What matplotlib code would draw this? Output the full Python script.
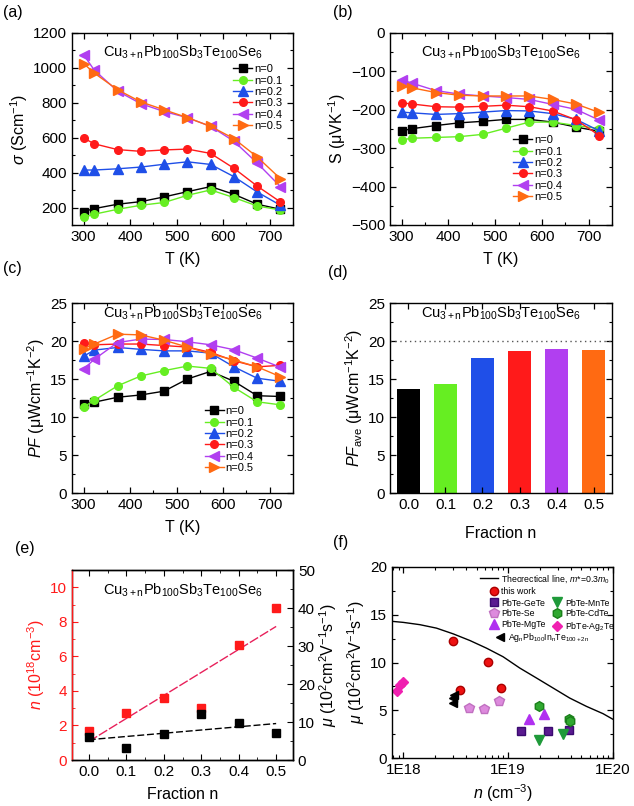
import numpy as np
import matplotlib
matplotlib.use("Agg")
import matplotlib.pyplot as plt
from matplotlib.legend import Legend
from matplotlib.ticker import MultipleLocator, FixedLocator, NullFormatter, LogLocator

plt.rcParams['font.family'] = ['Liberation Sans', 'DejaVu Sans']
plt.rcParams['mathtext.fontset'] = 'custom'
plt.rcParams['mathtext.rm'] = 'Liberation Sans'
plt.rcParams['mathtext.it'] = 'Liberation Sans:italic'
plt.rcParams['mathtext.default'] = 'regular'
plt.rcParams['xtick.direction'] = 'in'
plt.rcParams['ytick.direction'] = 'in'
plt.rcParams['axes.linewidth'] = 1.0

# ------------------------------------------------------------
# data
# ------------------------------------------------------------
T = [300, 323, 373, 423, 473, 523, 573, 623, 673, 723]
series_labels = ['n=0', 'n=0.1', 'n=0.2', 'n=0.3', 'n=0.4', 'n=0.5']
colors = ['#000000', '#66ee22', '#1f4fe8', '#ff1a1a', '#b13ff0', '#ff6a12']
markers = ['s', 'o', '^', 'o', '<', '>']

sigma_n0 = [177, 194, 219, 234, 261, 291, 320, 276, 219, 190]
sigma_n01 = [146, 162, 190, 213, 229, 270, 301, 257, 209, 186]
sigma_n02 = [415, 415, 422, 432, 448, 462, 447, 377, 289, 213]
sigma_n03 = [598, 565, 532, 522, 530, 535, 510, 425, 323, 232]
sigma_n04 = [1075, 987, 867, 795, 750, 715, 665, 580, 455, 320]
sigma_n05 = [1025, 970, 875, 805, 760, 715, 665, 595, 490, 365]

seebeck_n0 = [-255, -249, -241, -234, -230, -225, -225, -232, -245, -256]
seebeck_n01 = [-278, -274, -272, -270, -264, -248, -232, -232, -241, -249]
seebeck_n02 = [-206, -208, -212, -210, -206, -202, -203, -210, -225, -255]
seebeck_n03 = [-182, -185, -192, -193, -191, -188, -192, -203, -226, -267]
seebeck_n04 = [-122, -131, -150, -159, -164, -168, -173, -186, -199, -227]
seebeck_n05 = [-137, -143, -155, -162, -164, -164, -164, -173, -185, -207]

pf_n0 = [11.7, 11.95, 12.6, 12.9, 13.4, 15.0, 16.0, 14.7, 12.8, 12.7]
pf_n01 = [11.3, 12.2, 14.1, 15.4, 16.1, 16.7, 16.4, 13.9, 12.0, 11.6]
pf_n02 = [18.0, 18.8, 19.15, 18.9, 18.7, 18.7, 18.4, 16.6, 15.1, 14.7]
pf_n03 = [19.8, 19.5, 19.6, 19.6, 19.4, 19.2, 18.5, 17.4, 16.6, 16.8]
pf_n04 = [16.3, 17.6, 19.8, 20.25, 20.2, 19.9, 19.5, 18.85, 17.75, 16.55]
pf_n05 = [19.0, 19.6, 20.9, 20.8, 20.1, 19.2, 18.3, 17.5, 16.6, 15.3]

fraction = [0.0, 0.1, 0.2, 0.3, 0.4, 0.5]
pf_ave = [13.65, 14.4, 17.7, 18.65, 19.0, 18.85]
carrier_n = [1.69, 2.72, 3.59, 3.0, 6.64, 8.78]      # 10^18 cm^-3
mobility = [6.1, 3.1, 6.8, 12.0, 9.8, 7.0]           # 10^2 cm^2/Vs

theory_n = [7.8e17, 1.0e18, 1.44e18, 2.07e18, 2.99e18, 4.32e18, 6.22e18, 8.95e18,
            1.29e19, 1.86e19, 2.68e19, 3.86e19, 5.57e19, 8.04e19, 1.0e20]
theory_mu = [14.31, 14.2, 13.96, 13.6, 13.0, 12.3, 11.5, 10.6, 9.42, 8.38, 7.33,
             6.28, 5.41, 4.64, 4.05]

thiswork_n = [2.95e18, 3.5e18, 6.45e18, 8.5e18]
thiswork_mu = [12.2, 7.16, 10.09, 7.33]
gete_n = [1.34e19, 2.4e19, 3.8e19]
gete_mu = [2.86, 2.86, 2.97]
se_n = [4.26e18, 5.9e18, 8.1e18]
se_mu = [5.24, 5.17, 5.93]
mgte_n = [1.58e19, 2.2e19]
mgte_mu = [4.12, 4.64]
mnte_n = [1.95e19, 3.3e19]
mnte_mu = [1.92, 2.51]
cdte_n = [1.95e19, 3.8e19, 3.9e19]
cdte_mu = [5.48, 4.08, 3.84]
ag2te_n = [8.8e17, 9.3e17, 9.85e17]
ag2te_mu = [6.98, 7.68, 7.92]
last_n = [2.95e18, 3.0e18, 3.02e18]
last_mu = [5.76, 6.28, 6.56]

title = r'Cu$_{3+n}$Pb$_{100}$Sb$_3$Te$_{100}$Se$_6$'

# ------------------------------------------------------------
# layout helpers
# ------------------------------------------------------------
W, H = 634, 806
fig = plt.figure(figsize=(W / 100, H / 100), dpi=100)


def make_axes(left, right, top, bottom):
    return fig.add_axes([left / W, 1 - bottom / H, (right - left) / W, (bottom - top) / H])


def style(ax, right=True, top=True):
    ax.tick_params(which='both', top=top, right=right, labelsize=11)
    ax.tick_params(which='major', length=4, width=0.9)
    ax.tick_params(which='minor', length=2, width=0.8)


def temp_panel(ax, series, ylim, major, minor, ylabel, leg_anchor, title_y):
    for vals, lab, c, m in zip(series, series_labels, colors, markers):
        ms = 6.5 if m in ('^', '<', '>') else 5.5
        ax.plot(T, vals, color=c, marker=m, ms=ms, mec=c, lw=1.0, label=lab)
    ax.set_xlim(275, 750)
    ax.set_ylim(*ylim)
    ax.xaxis.set_major_locator(MultipleLocator(100))
    ax.xaxis.set_minor_locator(MultipleLocator(50))
    ax.yaxis.set_major_locator(MultipleLocator(major))
    ax.yaxis.set_minor_locator(MultipleLocator(minor))
    style(ax)
    ax.set_xlabel('T (K)', fontsize=11.5, labelpad=6)
    ax.set_ylabel(ylabel, fontsize=11.5, labelpad=2)
    ax.text(0.5, title_y, title, transform=ax.transAxes, ha='center', va='center', fontsize=10.5)
    ax.legend(loc='upper left', bbox_to_anchor=leg_anchor, frameon=False, fontsize=8,
              handlelength=1.7, handletextpad=0.15, labelspacing=0.12, borderaxespad=0,
              markerscale=1.0)


# ------------------------------------------------------------
# (a) conductivity
# ------------------------------------------------------------
ax_a = make_axes(72, 293, 33, 225)
temp_panel(ax_a, [sigma_n0, sigma_n01, sigma_n02, sigma_n03, sigma_n04, sigma_n05],
           (100, 1200), 200, 100, r'$\mathit{\sigma}$ (Scm$^{-1}$)', (0.71, 0.86), 0.90)

# (b) Seebeck
ax_b = make_axes(390, 612, 33, 225)
temp_panel(ax_b, [seebeck_n0, seebeck_n01, seebeck_n02, seebeck_n03, seebeck_n04, seebeck_n05],
           (-500, 0), 100, 50, 'S (μVK$^{-1}$)', (0.536, 0.49), 0.90)

# (c) power factor
ax_c = make_axes(72, 293, 303, 493)
temp_panel(ax_c, [pf_n0, pf_n01, pf_n02, pf_n03, pf_n04, pf_n05],
           (0, 25), 5, 2.5, r'$\mathit{PF}$ (μWcm$^{-1}$K$^{-2}$)', (0.58, 0.48), 0.945)

# (d) average power factor
ax_d = make_axes(390, 612, 303, 493)
ax_d.bar(fraction, pf_ave, width=0.062, color=colors)
ax_d.axhline(20, color='#555555', ls=(0, (1, 2.5)), lw=1.0)
ax_d.set_xlim(-0.05, 0.55)
ax_d.set_ylim(0, 25)
ax_d.set_xticks(fraction)
ax_d.set_xticklabels([f'{f:.1f}' for f in fraction])
ax_d.yaxis.set_major_locator(MultipleLocator(5))
ax_d.yaxis.set_minor_locator(MultipleLocator(2.5))
style(ax_d)
ax_d.set_xlabel('Fraction n', fontsize=11.5, labelpad=10)
ax_d.set_ylabel(r'$\mathit{PF}_{ave}$ (μWcm$^{-1}$K$^{-2}$)', fontsize=11.5, labelpad=2)
ax_d.text(0.5, 0.945, title, transform=ax_d.transAxes, ha='center', va='center', fontsize=10.5)

# (e) carrier concentration and mobility vs fraction
ax_e = make_axes(72, 293, 570, 760)
ax_e2 = ax_e.twinx()
red = '#ff1a1a'
ax_e.plot(fraction, carrier_n, 's', color=red, ms=5.5, zorder=3)
ax_e2.plot(fraction, mobility, 's', color='black', ms=5.5, zorder=3)
xs = np.array([fraction[0], fraction[-1]])
k1, b1 = np.polyfit(fraction, carrier_n, 1)
k2, b2 = np.polyfit(fraction, mobility, 1)
ax_e.plot(xs, k1 * xs + b1, color='#e8205a', ls=(0, (7, 1.5)), lw=1.0)
ax_e2.plot(xs, k2 * xs + b2, color='black', ls=(0, (5, 2)), lw=1.0)
ax_e.set_xlim(-0.045, 0.545)
ax_e.set_ylim(0, 11)
ax_e2.set_ylim(0, 50)
ax_e.set_xticks(fraction)
ax_e.set_xticklabels([f'{f:.1f}' for f in fraction])
ax_e.xaxis.set_minor_locator(MultipleLocator(0.05))
ax_e.yaxis.set_major_locator(MultipleLocator(2))
ax_e.yaxis.set_minor_locator(MultipleLocator(1))
ax_e2.yaxis.set_major_locator(MultipleLocator(10))
ax_e2.yaxis.set_minor_locator(MultipleLocator(5))
ax_e.tick_params(which='both', top=True, right=False, labelsize=11)
ax_e.tick_params(axis='y', which='both', colors=red, labelcolor=red)
ax_e.tick_params(which='major', length=4)
ax_e.tick_params(which='minor', length=2)
ax_e2.tick_params(which='both', labelsize=11)
ax_e2.tick_params(which='major', length=4)
ax_e2.tick_params(which='minor', length=2)
ax_e2.spines['left'].set_color(red)
ax_e.set_xlabel('Fraction n', fontsize=11.5, labelpad=6)
ax_e.set_ylabel(r'$\mathit{n}$ (10$^{18}$cm$^{-3}$)', fontsize=11.5, color=red, labelpad=2)
ax_e2.set_ylabel(r'$\mathit{\mu}$ (10$^2$cm$^2$V$^{-1}$s$^{-1}$)', fontsize=11.5, labelpad=2)
ax_e.text(0.5, 0.895, title, transform=ax_e.transAxes, ha='center', va='center', fontsize=10.5)

# (f) mobility vs carrier concentration
ax_f = make_axes(392, 613, 567, 758)
h_th, = ax_f.plot(theory_n, theory_mu, color='black', lw=1.0)
h_tw, = ax_f.plot(thiswork_n, thiswork_mu, 'o', color='#ee1111', mec='#aa0000', ms=6)
h_ge, = ax_f.plot(gete_n, gete_mu, 's', color='#5a1a90', mec='#3a0a70', ms=5.5)
h_se, = ax_f.plot(se_n, se_mu, 'p', color='#dd8add', mec='#c070c0', ms=7)
h_mg, = ax_f.plot(mgte_n, mgte_mu, '^', color='#b030f0', mec='#b030f0', ms=7)
h_mn, = ax_f.plot(mnte_n, mnte_mu, 'v', color='#1f9a3a', mec='#1f9a3a', ms=7)
h_cd, = ax_f.plot(cdte_n, cdte_mu, 'h', color='#30a830', mec='#1a801a', ms=7)
h_ag, = ax_f.plot(ag2te_n, ag2te_mu, 'D', color='#f020b0', mec='#f020b0', ms=5.5)
h_la, = ax_f.plot(last_n, last_mu, '<', color='black', ms=5.5)
ax_f.set_xscale('log')
ax_f.set_xlim(7.8e17, 1e20)
ax_f.set_ylim(0, 20)
ax_f.xaxis.set_major_locator(FixedLocator([1e18, 1e19, 1e20]))
ax_f.set_xticklabels(['1E18', '1E19', '1E20'])
ax_f.xaxis.set_minor_locator(LogLocator(base=10, subs=np.arange(2, 10)))
ax_f.xaxis.set_minor_formatter(NullFormatter())
ax_f.yaxis.set_major_locator(MultipleLocator(5))
ax_f.yaxis.set_minor_locator(MultipleLocator(2.5))
style(ax_f)
ax_f.set_xlabel(r'$\mathit{n}$ (cm$^{-3}$)', fontsize=11.5, labelpad=4)
ax_f.set_ylabel(r'$\mathit{\mu}$ (10$^2$cm$^2$V$^{-1}$s$^{-1}$)', fontsize=11.5, labelpad=2)

leg_kw = dict(frameon=False, fontsize=6.3, handletextpad=0.4, borderaxespad=0,
              borderpad=0, loc='upper left')
leg_specs = [
    ([h_th], [r'Theorectical line, $\mathit{m}$*=0.3$\mathit{m}_0$'], (0.40, 0.97), 2.0, 1),
    ([h_tw], ['this work'], (0.44, 0.893), 1.0, 1),
    ([h_ge, h_se, h_mg, h_mn, h_cd, h_ag],
     ['PbTe-GeTe', 'PbTe-Se', 'PbTe-MgTe', 'PbTe-MnTe', 'PbTe-CdTe', 'PbTe-Ag$_2$Te'],
     (0.44, 0.835), 1.0, 2),
    ([h_la], [r'Ag$_n$Pb$_{100}$In$_n$Te$_{100+2n}$'], (0.47, 0.665), 1.0, 1),
]
for hs, ls, anchor, hl, nc in leg_specs:
    leg = Legend(ax_f, hs, ls, bbox_to_anchor=anchor, handlelength=hl, ncol=nc,
                 columnspacing=0.8, labelspacing=0.2, **leg_kw)
    ax_f.add_artist(leg)

# panel letters
for lab, x, y in [('(a)', 3, 13), ('(b)', 333, 13), ('(c)', 3, 269), ('(d)', 328, 273),
                  ('(e)', 15, 548), ('(f)', 333, 543)]:
    fig.text(x / W, 1 - y / H, lab, fontsize=11.5, ha='left', va='center')

fig.savefig('out.png', dpi=100)
